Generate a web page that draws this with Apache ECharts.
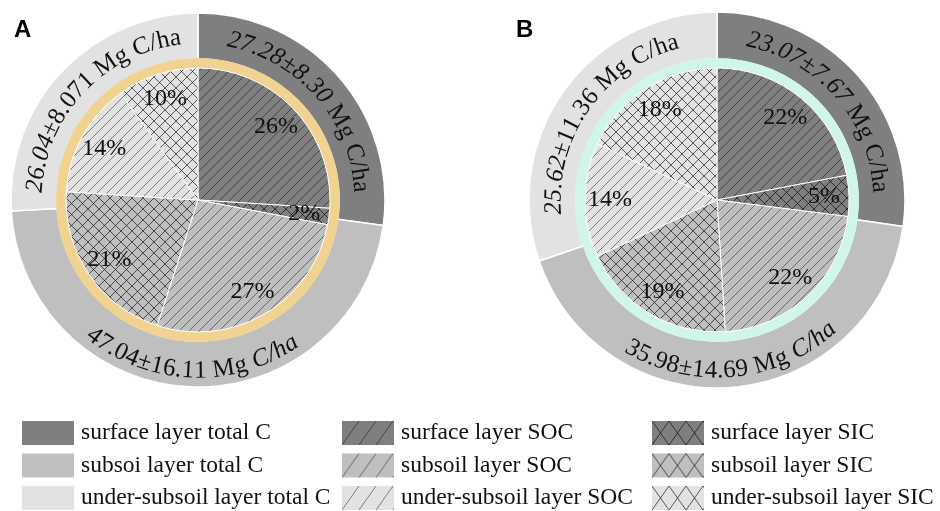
<!DOCTYPE html>
<html>
<head>
<meta charset="utf-8">
<script src="https://cdn.jsdelivr.net/npm/echarts@6/dist/echarts.min.js"></script>
<style>
  html, body { margin: 0; padding: 0; background: #fff; }
  #chart { width: 940px; height: 511px; }
</style>
</head>
<body>
<div id="chart"></div>
<script>
// ---- data -------------------------------------------------------------
const panelLetters = ['A', 'B'];
const totalNames = ['surface layer total C', 'subsoi layer total C', 'under-subsoil layer total C'];
const socNames = ['surface layer SOC', 'subsoil layer SOC', 'under-subsoil layer SOC'];
const sicNames = ['surface layer SIC', 'subsoil layer SIC', 'under-subsoil layer SIC'];
const unitText = 'Mg C/ha';

// panel A: total C stock (mean, sd) and SOC / SIC shares (%) per layer
const totalMeanA = [27.28, 47.04, 26.04];
const totalSdA = ['8.30', '16.11', '8.071'];
const socShareA = [26, 27, 14];
const sicShareA = [2, 21, 10];

// panel B
const totalMeanB = [23.07, 35.98, 25.62];
const totalSdB = ['7.67', '14.69', '11.36'];
const socShareB = [22, 22, 14];
const sicShareB = [5, 19, 18];

// ---- style ------------------------------------------------------------
const FONT = '"Liberation Serif", "Times New Roman", serif';
const layerColors = ['#7f7f7f', '#bfbfbf', '#e2e2e2'];
const ringColors = ['#f1d391', '#d0f6eb'];
const panelGeom = [
  { center: [198, 200], outer: 187 },
  { center: [717, 200], outer: 188 }
];
const RING_IN = 132, RING_OUT = 142;
const ARC_FONT = 25;
// arc text radius / letter tracking for labels on the upper and lower halves
const ARC_UPPER = { r: 163, track: 0.6 };
const ARC_LOWER = { r: 171, track: 0 };
// which part of each arc label is set in italics (surface, subsoil, under-subsoil)
const italicPart = [['stat', 'unit', 'mean'], ['stat', 'unit', 'mean']];

// hatch tiles used as pattern fills
function hatch(bg, w, h, cross, line) {
  const c = document.createElement('canvas');
  c.width = w; c.height = h;
  const g = c.getContext('2d');
  g.fillStyle = bg;
  g.fillRect(0, 0, w, h);
  g.strokeStyle = line;
  g.lineWidth = 1;
  g.beginPath();
  for (let k = -1; k <= 1; k++) {
    g.moveTo(k * w, h); g.lineTo(k * w + w, 0);
    if (cross) { g.moveTo(k * w, 0); g.lineTo(k * w + w, h); }
  }
  g.stroke();
  return { image: c, repeat: 'repeat' };
}
const socFill = layerColors.map(c => hatch(c, 10, 10, false, 'rgba(0,0,0,0.45)'));
const sicFill = layerColors.map(c => hatch(c, 11, 11, true, 'rgba(0,0,0,0.62)'));
const socLegendFill = layerColors.map(c => hatch(c, 17, 24, false, 'rgba(0,0,0,0.45)'));
const sicLegendFill = layerColors.map(c => hatch(c, 17, 24, true, 'rgba(0,0,0,0.62)'));

// ---- curved labels on the outer ring ------------------------------------
const measure = document.createElement('canvas').getContext('2d');
function charW(ch, italic) {
  measure.font = (italic ? 'italic ' : '') + ARC_FONT + 'px ' + FONT;
  return measure.measureText(ch).width;
}
function arcLabelChars(means, sds, italics) {
  const sum = means.reduce((a, b) => a + b, 0);
  const unitSplit = unitText.lastIndexOf(' ');
  const out = [];
  let acc = 0;
  means.forEach((m, i) => {
    const a0 = acc / sum * 360;
    acc += m;
    const a1 = acc / sum * 360;
    const mid = (a0 + a1) / 2;
    const flip = mid > 90 && mid < 270;
    const arc = flip ? ARC_LOWER : ARC_UPPER;
    const mode = italics[i];
    const pieces = [
      { t: m.toFixed(2), it: mode === 'stat' || mode === 'mean' },
      { t: '±' + sds[i], it: mode === 'stat' },
      { t: ' ' + unitText.slice(0, unitSplit + 1), it: false },
      { t: unitText.slice(unitSplit + 1), it: mode === 'unit' }
    ];
    const chars = [];
    pieces.forEach(p => { for (const ch of p.t) chars.push({ ch, it: p.it, w: charW(ch, p.it) + arc.track }); });
    const total = chars.reduce((a, c) => a + c.w, 0);
    const span = total / arc.r * 180 / Math.PI;
    let run = 0;
    chars.forEach(c => {
      const off = (run + c.w / 2) / arc.r * 180 / Math.PI;
      run += c.w;
      const ang = flip ? mid + span / 2 - off : mid - span / 2 + off;
      out.push({ value: [arc.r, ang], ch: c.ch, it: c.it, rot: flip ? 180 - ang : -ang });
    });
  });
  return out;
}

// ---- series -------------------------------------------------------------
function innerData(soc, sic) {
  const d = [];
  for (let i = 0; i < 3; i++) {
    d.push({ name: socNames[i], value: soc[i], itemStyle: { color: socFill[i] } });
    d.push({ name: sicNames[i], value: sic[i], itemStyle: { color: sicFill[i] } });
  }
  return d;
}

const panels = [
  { means: totalMeanA, sds: totalSdA, soc: socShareA, sic: sicShareA },
  { means: totalMeanB, sds: totalSdB, soc: socShareB, sic: sicShareB }
];

const hiddenAxis = { axisLine: { show: false }, axisTick: { show: false }, axisLabel: { show: false }, splitLine: { show: false } };
const series = [];
const polar = [], angleAxis = [], radiusAxis = [];
panels.forEach((p, k) => {
  const g = panelGeom[k];
  const common = { center: g.center, startAngle: 90, clockwise: true, silent: true,
    animation: false, emphasis: { disabled: true }, avoidLabelOverlap: false, labelLine: { show: false } };
  // total C per layer (outer band)
  series.push(Object.assign({}, common, {
    type: 'pie', radius: [RING_OUT - 1, g.outer],
    label: { show: false },
    itemStyle: { borderColor: '#fff', borderWidth: 1.5 },
    data: p.means.map((v, i) => ({ name: totalNames[i], value: v, itemStyle: { color: layerColors[i] } }))
  }));
  // coloured separator ring
  series.push(Object.assign({}, common, {
    type: 'pie', radius: [RING_IN, RING_OUT],
    label: { show: false },
    data: [{ name: 'ring' + k, value: 1, itemStyle: { color: ringColors[k] } }]
  }));
  // SOC / SIC shares (hatched inner pie)
  series.push(Object.assign({}, common, {
    type: 'pie', radius: [0, RING_IN],
    label: { show: false },
    itemStyle: { borderColor: '#fff', borderWidth: 1 },
    data: innerData(p.soc, p.sic)
  }));
  // share labels, placed in the outer band of the inner pie
  series.push(Object.assign({}, common, {
    type: 'pie', radius: [76, RING_IN],
    itemStyle: { color: 'rgba(0,0,0,0)', borderWidth: 0 },
    label: { show: true, position: 'inside', formatter: '{c}%',
      fontFamily: FONT, fontSize: 24, color: '#111' },
    data: innerData(p.soc, p.sic).map(d => ({ name: d.name, value: d.value }))
  }));

  // polar frame sharing the pie centre, used to set the ring text along arcs
  polar.push({ center: g.center, radius: g.outer });
  angleAxis.push(Object.assign({ type: 'value', polarIndex: k, min: 0, max: 360, startAngle: 90, clockwise: true }, hiddenAxis));
  radiusAxis.push(Object.assign({ type: 'value', polarIndex: k, min: 0, max: g.outer }, hiddenAxis));
  const chars = arcLabelChars(p.means, p.sds, italicPart[k]);
  series.push({
    type: 'custom', coordinateSystem: 'polar', polarIndex: k, silent: true, animation: false, z: 10,
    data: chars.map(c => c.value),
    renderItem: (params, api) => {
      const c = chars[params.dataIndex];
      const pt = api.coord([api.value(0), api.value(1)]);
      return {
        type: 'text', x: pt[0], y: pt[1], rotation: c.rot * Math.PI / 180,
        style: { text: c.ch, fontFamily: FONT, fontSize: ARC_FONT, fontStyle: c.it ? 'italic' : 'normal',
          fill: '#111', align: 'center', verticalAlign: 'middle' }
      };
    }
  });
});

const legendCols = [
  { left: 22, names: totalNames, fills: layerColors },
  { left: 342, names: socNames, fills: socLegendFill },
  { left: 652, names: sicNames, fills: sicLegendFill }
];

const option = {
  backgroundColor: '#fff',
  title: panelLetters.map((t, k) => ({
    text: t, left: k === 0 ? 9 : 511, top: 13,
    textStyle: { fontFamily: '"Liberation Sans", Arial, sans-serif', fontWeight: 'bold', fontSize: 24, color: '#000' }
  })),
  polar, angleAxis, radiusAxis,
  legend: legendCols.map(col => ({
    orient: 'vertical', left: col.left, top: 421, height: 110, itemWidth: 52, itemHeight: 24, itemGap: 8.5,
    icon: 'rect', selectedMode: false, padding: 0,
    itemStyle: { borderWidth: 0 },
    textStyle: { fontFamily: FONT, fontSize: 23.5, color: '#111', padding: [0, 0, 0, 2] },
    data: col.names.map((n, i) => ({ name: n, itemStyle: { color: col.fills[i], borderWidth: 0 } }))
  })),
  series
};

const chart = echarts.init(document.getElementById('chart'), null, { renderer: 'canvas' });
chart.setOption(option);
</script>
</body>
</html>
